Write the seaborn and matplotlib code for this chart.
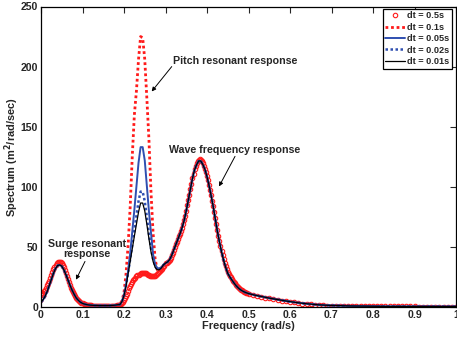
import numpy as np
import matplotlib
matplotlib.use("Agg")
import matplotlib.pyplot as plt
from matplotlib import font_manager as fm
import seaborn as sns

# ---- frequency grids (rad/s) ----
freq_fine = np.round(np.arange(0.0, 0.5001, 0.005), 3)     # 0 .. 0.50
freq_tail = np.round(np.arange(0.51, 1.0001, 0.01), 2)     # 0.51 .. 1.00
freq = np.concatenate([freq_fine, freq_tail])
freq_dense = np.round(np.arange(0.0, 0.49999, 0.0025), 4)  # 0 .. 0.4975
freq_dense_tail = np.round(np.arange(0.5, 1.00001, 0.01), 2)
freq_dt05 = np.concatenate([freq_dense, freq_dense_tail])

# ---- spectrum segments (m^2/rad/sec) ----
# surge band, f = 0 .. 0.185
surge_fine = [4, 6, 9, 13, 18, 23, 28, 32, 34.5, 35, 34, 31, 27, 22.5, 18, 14,
              10.5, 7.5, 5.5, 4, 3, 2.4, 2, 1.7, 1.5,
              1.4, 1.3, 1.3, 1.2, 1.2, 1.2, 1.2, 1.2, 1.2, 1.3, 1.4, 1.6, 1.9]

# pitch band, f = 0.19 .. 0.295
pitch_dt01 = [2.5, 5, 12, 28, 52, 84, 126, 160, 180, 206, 225, 224, 206, 174,
              140, 96, 62, 40, 31, 29.5, 31, 34]
pitch_dt005 = [2, 4.5, 10, 19, 30, 45, 63, 81, 101, 120, 133, 133, 122, 101,
               80, 62, 44, 35.5, 32.5, 32, 33, 35]
pitch_dt002 = [2, 4.5, 9.5, 18, 29, 40, 52, 64, 76, 88, 96, 96, 88, 75,
               61, 49, 40, 34, 31.5, 31.5, 33, 35]
pitch_dt001 = [2, 4.5, 9.5, 17.5, 28, 38, 49, 59, 69, 79, 86.5, 86.5, 80, 69,
               57, 46, 38, 33, 31, 31, 32.5, 35]

# wave band, f = 0.30 .. 0.50
wave_band = [36.5, 37.5, 39.5, 43, 47.5, 52, 56.5, 61, 66, 72, 80, 89, 98, 107,
             114, 118.5, 121.5, 121.5, 118.5, 114.5, 108.5, 101, 92.5, 83.5, 73,
             63, 54, 46, 39, 33, 28, 25, 22.5, 20, 17.8, 16, 14.5, 13.4, 12.5,
             11.8, 11.2]
# high-frequency tail, f = 0.51 .. 1.00
tail_band = [10.3, 9.5, 8.8, 8.1, 7.4, 6.8, 6.2, 5.6, 5.0, 4.5, 4.0, 3.5, 3.1,
             2.7, 2.4, 2.1, 1.8, 1.6, 1.4, 1.3, 1.2, 1.1, 1.0, 0.9, 0.85, 0.8,
             0.75, 0.7, 0.65, 0.6, 0.6, 0.55, 0.55, 0.5, 0.5, 0.5, 0.5, 0.45,
             0.45, 0.45, 0.45, 0.4, 0.4, 0.4, 0.4, 0.4, 0.4, 0.4, 0.4, 0.4]

# dt = 0.5 s run, finer frequency resolution
surge_dt05 = [10, 11, 12, 13.2,  14.5, 16.2, 18, 20,  22, 24.5, 27, 29.3,
              31.5, 33.4, 35, 36.4,  37.3, 37.8, 37.8, 37.4,  36.5, 35, 33, 30.8,
              28.5, 26, 23.5, 21,  18.5, 16.2, 14, 12.2,  10.5, 9, 7.5, 6.5,
              5.5, 4.7, 4, 3.5,  3, 2.6, 2.3, 2.0,  1.8, 1.6, 1.5, 1.4,
              1.3, 1.2, 1.2, 1.1,  1.1, 1.0, 1.0, 1.0,  1.0, 1.0, 1.0, 1.0,
              1.0, 1.0, 1.0, 1.0,  1.0, 1.0, 1.0, 1.0,  1.0, 1.0, 1.1, 1.1,
              1.2, 1.3, 1.4, 1.6]
pitch_dt05 = [1.8, 2.3, 3, 4.2,  5.5, 7.2, 9, 11.2,  13.5, 15.5, 17.5, 19.3,
              21, 22.3, 23.5, 24.5,  25.5, 26.3, 27, 27.5,  28, 28.3, 28.5, 28.5,
              28.5, 28, 27.5, 27,  26.5, 26, 25.5, 25.4,  25.5, 25.7, 26, 26.7,
              27.5, 28.2, 29, 30,  31, 32, 33, 34.5]
wave_dt05 = [36.5, 37, 37.5, 38.5,  39.5, 41, 43, 45.2,  47.5, 49.8, 52, 54.2,
             56.5, 58.8, 61, 63.5,  66, 69, 72, 76,  80, 84.5, 89, 93.5,
             98, 102.5, 107, 110.8,  114.5, 117, 119.5, 121.3,
             122.5, 123, 122.5, 121.2,  119.5, 117.3, 115, 112.3,
             109, 105.3, 101.5, 97.3,  93, 88.5, 84, 79,  74, 69, 64, 59.3,
             55, 50.8, 47, 43.5,  40, 37, 34, 31.5,  29, 27.4, 26, 24.6,
             23.3, 22, 20.8, 19.6,  18.5, 17.5, 16.5, 15.8,  15, 14.4, 13.8, 13.3,
             12.8, 12.4, 12, 11.6]
tail_dt05 = [11.0,
             10.1, 9.3, 8.6, 7.9, 7.2, 6.6, 6.0, 5.4, 4.8, 4.3,
             3.8, 3.3, 2.9, 2.5, 2.2, 1.9, 1.6, 1.4, 1.2, 1.1,
             1.0, 0.9, 0.8, 0.75, 0.7, 0.65, 0.6, 0.55, 0.5, 0.5,
             0.45, 0.45, 0.45, 0.45, 0.45, 0.45, 0.45, 0.45, 0.45, 0.45,
             0.4, 0.4, 0.4, 0.4, 0.4, 0.4, 0.4, 0.4, 0.4, 0.4]

spec_dt05 = np.array(surge_dt05 + pitch_dt05 + wave_dt05 + tail_dt05)
spec_dt01 = np.array(surge_fine + pitch_dt01 + wave_band + tail_band)
spec_dt005 = np.array(surge_fine + pitch_dt005 + wave_band + tail_band)
spec_dt002 = np.array(surge_fine + pitch_dt002 + wave_band + tail_band)
spec_dt001 = np.array(surge_fine + pitch_dt001 + wave_band + tail_band)

labels = ["dt = 0.5s", "dt = 0.1s", "dt = 0.05s", "dt = 0.02s", "dt = 0.01s"]
x_ticks = [0, 0.1, 0.2, 0.3, 0.4, 0.5, 0.6, 0.7, 0.8, 0.9, 1.0]
x_tick_labels = ["0", "0.1", "0.2", "0.3", "0.4", "0.5", "0.6", "0.7", "0.8", "0.9", "1"]
y_ticks = [0, 50, 100, 150, 200, 250]

sns.set_style("white")

# regular-width Liberation Sans Bold (avoid the Narrow cut)
bold_path = None
for f in fm.fontManager.ttflist:
    if f.name == "Liberation Sans" and f.weight in (700, "bold") and "Narrow" not in f.fname \
            and f.style == "normal":
        bold_path = f.fname
        break
if bold_path:
    BOLD = fm.FontProperties(fname=bold_path)
    plt.rcParams["font.family"] = ["Liberation Sans", "DejaVu Sans"]
else:
    BOLD = fm.FontProperties(family="DejaVu Sans", weight="bold")
    plt.rcParams["font.family"] = ["DejaVu Sans"]
plt.rcParams["font.weight"] = "bold"
plt.rcParams["mathtext.fontset"] = "custom"
plt.rcParams["mathtext.bf"] = "Liberation Sans:bold"
plt.rcParams["mathtext.rm"] = "Liberation Sans:bold"
plt.rcParams["mathtext.default"] = "bf"


def fp(size):
    p = BOLD.copy()
    p.set_size(size)
    return p


fig = plt.figure(figsize=(4.57, 3.38), dpi=100)
ax = fig.add_axes([41 / 457, 31 / 338, 415 / 457, 300.5 / 338])

RED = "#ff1a1a"
BLUE = "#2f4fb0"

sns.lineplot(x=freq_dt05, y=spec_dt05, ax=ax, linestyle="", marker="o", markersize=3.2,
             markerfacecolor="none", markeredgecolor=RED, markeredgewidth=0.8,
             label=labels[0])
sns.lineplot(x=freq, y=spec_dt01, ax=ax, color=RED, linestyle=(0, (1, 1)),
             linewidth=2.0, label=labels[1])
sns.lineplot(x=freq, y=spec_dt005, ax=ax, color=BLUE, linestyle="-",
             linewidth=1.4, label=labels[2])
sns.lineplot(x=freq, y=spec_dt002, ax=ax, color=BLUE, linestyle=(0, (1, 1)),
             linewidth=1.8, label=labels[3])
sns.lineplot(x=freq, y=spec_dt001, ax=ax, color="black", linestyle="-",
             linewidth=0.9, label=labels[4])

ax.set_xlim(0, 1)
ax.set_ylim(0, 250)
ax.set_xticks(x_ticks)
ax.set_xticklabels(x_tick_labels)
ax.set_yticks(y_ticks)
ax.tick_params(direction="in", length=4, width=0.8, top=True, right=True, pad=2)
for lbl in ax.get_xticklabels() + ax.get_yticklabels():
    lbl.set_fontproperties(fp(7.6))
for sp in ax.spines.values():
    sp.set_visible(True)
    sp.set_color("black")
    sp.set_linewidth(0.9)

ax.set_xlabel("Frequency (rad/s)", fontproperties=fp(7.9), labelpad=1)
ax.set_ylabel("Spectrum (m$^2$/rad/sec)", fontproperties=fp(7.9), labelpad=0)

leg = ax.legend(loc="upper right", bbox_to_anchor=(0.99, 0.993), borderaxespad=0,
                prop=fp(6.6), frameon=True, fancybox=False, edgecolor="black",
                framealpha=1, handlelength=2.1, handletextpad=0.25,
                labelspacing=0.26, borderpad=0.3, numpoints=1)
leg.get_frame().set_linewidth(0.9)

arrow = dict(arrowstyle="-|>", color="black", lw=0.7, mutation_scale=6,
             shrinkA=0, shrinkB=0)
txt = dict(fontproperties=fp(7.7), ha="center", va="center")
ax.text(0.4687, 204.3, "Pitch resonant response", **txt)
ax.annotate("", xy=(0.2667, 179.3), xytext=(0.315, 200), arrowprops=arrow)
ax.text(0.4663, 130.2, "Wave frequency response", **txt)
ax.annotate("", xy=(0.429, 100.3), xytext=(0.4675, 125.3), arrowprops=arrow)
ax.text(0.110, 48.5, "Surge resonant\nresponse", linespacing=1.05, **txt)
ax.annotate("", xy=(0.0843, 22.7), xytext=(0.106, 37.9), arrowprops=arrow)

fig.savefig("out.png", dpi=100)
